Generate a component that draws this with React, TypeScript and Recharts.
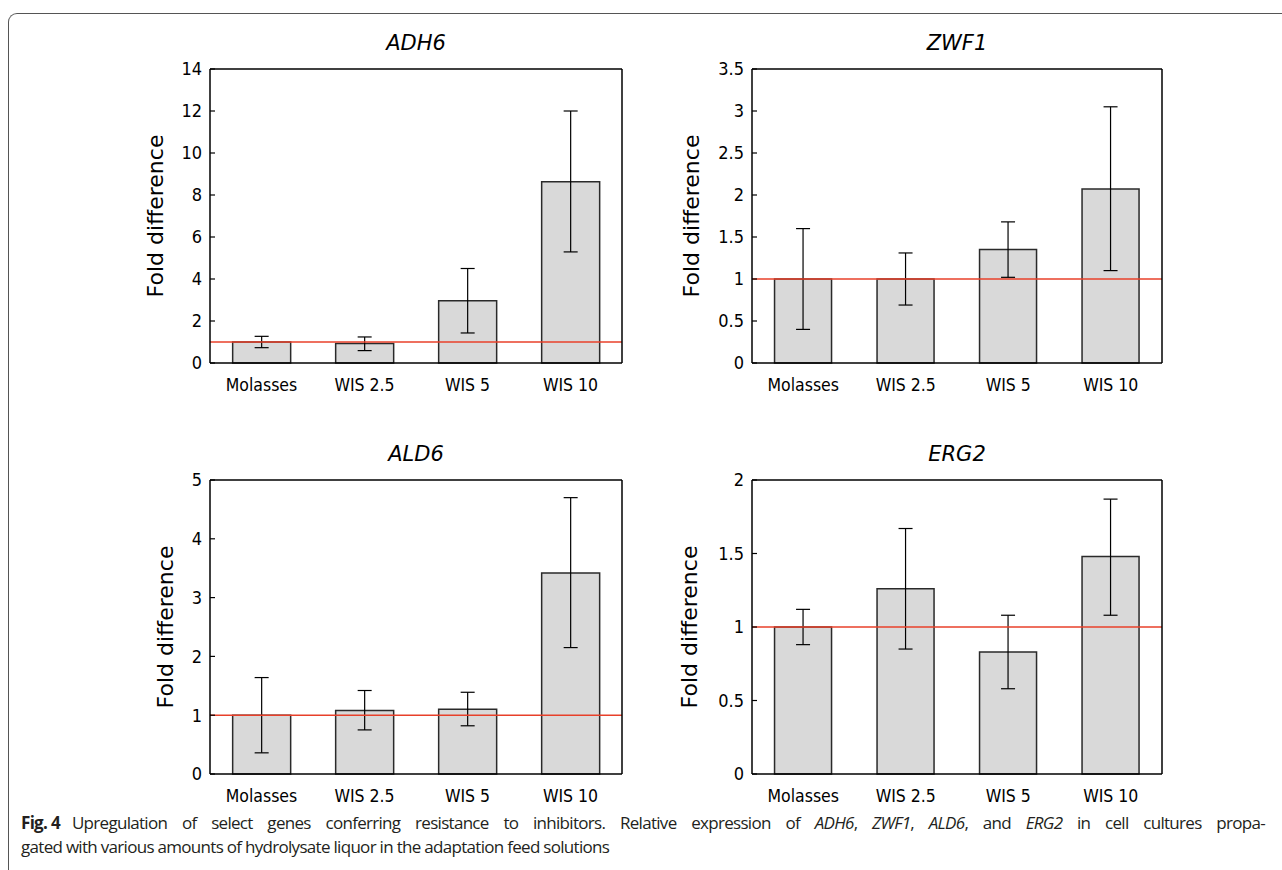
import { BarChart, Bar, XAxis, YAxis, ErrorBar, ReferenceLine } from 'recharts'

const categories = ['Molasses', 'WIS 2.5', 'WIS 5', 'WIS 10']

// ADH6
const adh6Mean = [1.0, 0.93, 2.97, 8.63]
const adh6Low = [0.73, 0.59, 1.43, 5.29]
const adh6High = [1.27, 1.24, 4.5, 12.0]
const adh6Ticks = [0, 2, 4, 6, 8, 10, 12, 14]

// ZWF1
const zwf1Mean = [1.0, 1.0, 1.35, 2.07]
const zwf1Low = [0.4, 0.69, 1.02, 1.1]
const zwf1High = [1.6, 1.31, 1.68, 3.05]
const zwf1Ticks = [0, 0.5, 1, 1.5, 2, 2.5, 3, 3.5]

// ALD6
const ald6Mean = [1.0, 1.08, 1.1, 3.42]
const ald6Low = [0.36, 0.75, 0.82, 2.15]
const ald6High = [1.64, 1.42, 1.39, 4.7]
const ald6Ticks = [0, 1, 2, 3, 4, 5]

// ERG2
const erg2Mean = [1.0, 1.26, 0.83, 1.48]
const erg2Low = [0.88, 0.85, 0.58, 1.08]
const erg2High = [1.12, 1.67, 1.08, 1.87]
const erg2Ticks = [0, 0.5, 1, 1.5, 2]

const buildRows = (mean: number[], low: number[], high: number[]) =>
  categories.map((cat, i) => ({
    cat,
    value: mean[i],
    err: [mean[i] - low[i], high[i] - mean[i]],
  }))

const TOP_H = 10
const BOTTOM_H = 40
const RIGHT_W = 1
const tickFont = "'DejaVu Sans Condensed', 'DejaVu Sans', sans-serif"
const frame = { stroke: '#000', strokeWidth: 1.5 }

type PanelProps = {
  title: string
  rows: { cat: string; value: number; err: number[] }[]
  ticks: number[]
  plotLeft: number
  plotRight: number
  plotTop: number
  plotBottom: number
  yWidth: number
}

const Panel = ({ title, rows, ticks, plotLeft, plotRight, plotTop, plotBottom, yWidth }: PanelProps) => {
  const plotW = plotRight - plotLeft
  const plotH = plotBottom - plotTop
  const max = ticks[ticks.length - 1]
  return (
    <>
      <div
        style={{
          position: 'absolute',
          left: plotLeft,
          width: plotW,
          top: plotTop - 40,
          height: 28,
          lineHeight: '28px',
          textAlign: 'center',
          fontStyle: 'italic',
          fontSize: 21,
          fontFamily: "'DejaVu Sans', sans-serif",
          color: '#000',
        }}
      >
        {title}
      </div>
      <div style={{ position: 'absolute', left: plotLeft - yWidth, top: plotTop - TOP_H }}>
        <BarChart
          width={yWidth + plotW + RIGHT_W}
          height={TOP_H + plotH + BOTTOM_H}
          data={rows}
          margin={{ top: 0, right: 0, bottom: 0, left: 0 }}
          barCategoryGap="22%"
        >
          <XAxis
            xAxisId="top"
            orientation="top"
            dataKey="cat"
            height={TOP_H}
            tick={false}
            tickSize={-5}
            interval={0}
            axisLine={frame}
            tickLine={{ stroke: '#000', strokeWidth: 1.2 }}
          />
          <XAxis
            xAxisId="bottom"
            dataKey="cat"
            height={BOTTOM_H}
            interval={0}
            tickSize={0}
            tickMargin={16}
            tickLine={false}
            axisLine={frame}
            tick={{ fill: '#000', fontSize: 17.5, fontFamily: tickFont }}
          />
          <YAxis
            yAxisId="left"
            type="number"
            width={yWidth}
            domain={[0, max]}
            ticks={ticks}
            interval={0}
            tickSize={-5}
            tickMargin={13}
            axisLine={frame}
            tickLine={{ stroke: '#000', strokeWidth: 1.2 }}
            tick={{ fill: '#000', fontSize: 18, fontFamily: tickFont }}
            label={{
              value: 'Fold difference',
              angle: -90,
              position: 'center',
              fill: '#000',
              fontSize: 22,
              fontFamily: "'DejaVu Sans', sans-serif",
            }}
          />
          <YAxis
            yAxisId="right"
            orientation="right"
            type="number"
            width={RIGHT_W}
            domain={[0, max]}
            ticks={ticks}
            interval={0}
            tick={false}
            tickSize={-5}
            axisLine={frame}
            tickLine={{ stroke: '#000', strokeWidth: 1.2 }}
          />
          <Bar
            xAxisId="bottom"
            yAxisId="left"
            dataKey="value"
            fill="#d9d9d9"
            stroke="#2a2a2a"
            strokeWidth={1.5}
            isAnimationActive={false}
          >
            <ErrorBar dataKey="err" width={7} stroke="#000" strokeWidth={1.2} isAnimationActive={false} />
          </Bar>
          <ReferenceLine xAxisId="bottom" yAxisId="left" y={1} stroke="#e8402a" strokeWidth={1.5} />
        </BarChart>
      </div>
    </>
  )
}

const captionStyle = {
  position: 'absolute' as const,
  left: 21,
  height: 24,
  lineHeight: '24px',
  fontFamily: "'Open Sans', 'Noto Sans', sans-serif",
  fontSize: 17,
  letterSpacing: '-0.7px',
  color: '#231f20',
}

export default function App() {
  return (
    <div
      style={{
        position: 'absolute',
        left: 0,
        top: 0,
        width: 1282,
        height: 870,
        overflow: 'hidden',
        background: '#fff',
      }}
    >
      <div
        style={{
          position: 'absolute',
          left: 8,
          top: 13,
          width: 1400,
          height: 1000,
          borderTop: '1.5px solid #555',
          borderLeft: '1.5px solid #555',
          borderTopLeftRadius: 9,
        }}
      />
      <Panel title="ADH6" rows={buildRows(adh6Mean, adh6Low, adh6High)} ticks={adh6Ticks}
        plotLeft={210} plotRight={622} plotTop={69} plotBottom={363} yWidth={110} />
      <Panel title="ZWF1" rows={buildRows(zwf1Mean, zwf1Low, zwf1High)} ticks={zwf1Ticks}
        plotLeft={752} plotRight={1162} plotTop={69} plotBottom={363} yWidth={122} />
      <Panel title="ALD6" rows={buildRows(ald6Mean, ald6Low, ald6High)} ticks={ald6Ticks}
        plotLeft={210} plotRight={622} plotTop={480} plotBottom={774} yWidth={90} />
      <Panel title="ERG2" rows={buildRows(erg2Mean, erg2Low, erg2High)} ticks={erg2Ticks}
        plotLeft={752} plotRight={1162} plotTop={480} plotBottom={774} yWidth={126} />
      <div
        style={{
          ...captionStyle,
          top: 811,
          width: 1244,
          textAlign: 'justify',
          textAlignLast: 'justify',
        }}
      >
        <span style={{ display: 'inline-block', whiteSpace: 'nowrap', fontWeight: 700, paddingRight: 12 }}>
          Fig.&nbsp;4
        </span>
        Upregulation of select genes conferring resistance to inhibitors. Relative expression of{' '}
        <i>ADH6</i>, <i>ZWF1</i>, <i>ALD6</i>, and <i>ERG2</i> in cell cultures propa-
      </div>
      <div style={{ ...captionStyle, top: 835, whiteSpace: 'nowrap' }}>
        gated with various amounts of hydrolysate liquor in the adaptation feed solutions
      </div>
    </div>
  )
}
